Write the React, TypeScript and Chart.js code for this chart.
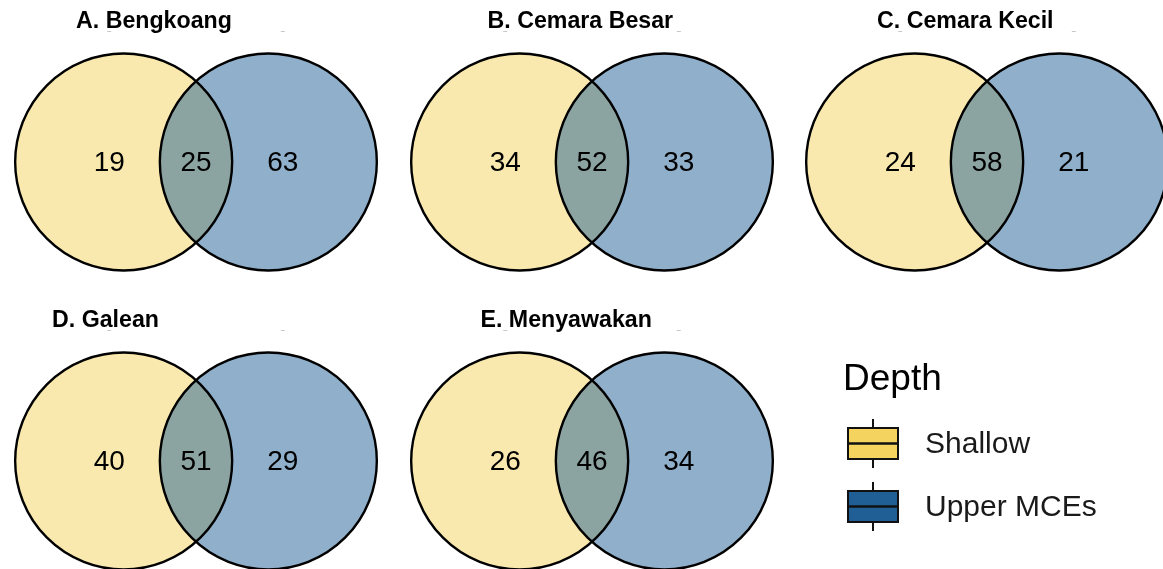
import React, { useEffect, useRef } from "react";
import { Chart, registerables } from "chart.js";

Chart.register(...registerables);

// ---- data ----
const panelTitles = ["A. Bengkoang", "B. Cemara Besar", "C. Cemara Kecil", "D. Galean", "E. Menyawakan"];
const shallowOnly = [19, 34, 24, 40, 26];
const sharedSpecies = [25, 52, 58, 51, 46];
const upperOnly = [63, 33, 21, 29, 34];
const depthLevels = ["Shallow", "Upper MCEs"];

// ---- styling / layout ----
const DEPTH_COLORS = ["#F4D35E", "#1F5F96"];
const UNIT = 108.5; // px per venn unit
const CW = 396;
const CH = 299;
const OX = 198; // venn centre inside canvas
const OY = 162;
const PANEL_LAYOUT = [
  { cx: 196, cy: 162, titleX: 76 },
  { cx: 591.5, cy: 162, titleX: 487 },
  { cx: 987, cy: 162, titleX: 877 },
  { cx: 196, cy: 461, titleX: 52 },
  { cx: 591.5, cy: 461, titleX: 480 },
];
const LABEL_X = [-0.8, 0, 0.8];
const CIRCLE_X = [-2 / 3, 2 / 3];
const FONT = "'Liberation Sans', Arial, sans-serif";

const vennPlugin = {
  id: "venn",
  beforeDatasetsDraw(chart: any) {
    const { ctx } = chart;
    const xs = chart.scales.x;
    const ys = chart.scales.y;
    const r = xs.getPixelForValue(1) - xs.getPixelForValue(0);
    const cy = ys.getPixelForValue(0);
    ctx.save();
    CIRCLE_X.forEach((cx, i) => {
      ctx.beginPath();
      ctx.arc(xs.getPixelForValue(cx), cy, r, 0, Math.PI * 2);
      ctx.globalAlpha = 0.5;
      ctx.fillStyle = DEPTH_COLORS[i];
      ctx.fill();
    });
    ctx.globalAlpha = 1;
    ctx.lineWidth = 2.4;
    ctx.strokeStyle = "#000";
    CIRCLE_X.forEach((cx) => {
      ctx.beginPath();
      ctx.arc(xs.getPixelForValue(cx), cy, r, 0, Math.PI * 2);
      ctx.stroke();
    });
    ctx.restore();
  },
  afterDatasetsDraw(chart: any, _args: any, opts: any) {
    const { ctx } = chart;
    const meta = chart.getDatasetMeta(0);
    const ds = chart.data.datasets[0];
    ctx.save();
    ctx.fillStyle = "#000";
    ctx.font = `28px ${FONT}`;
    ctx.textAlign = "center";
    ctx.textBaseline = "middle";
    meta.data.forEach((pt: any, i: number) => {
      ctx.fillText(String(ds.data[i].v), pt.x, pt.y + 1);
    });
    // tiny marks above outer counts
    ctx.strokeStyle = "#c8c8c8";
    ctx.lineWidth = 1;
    [0, 2].forEach((i) => {
      const p = meta.data[i];
      ctx.beginPath();
      ctx.moveTo(p.x - 2, OY - 131 + 0.5);
      ctx.lineTo(p.x + 2, OY - 131 + 0.5);
      ctx.stroke();
    });
    // title
    ctx.font = `bold 23.2px ${FONT}`;
    ctx.textAlign = "left";
    ctx.textBaseline = "alphabetic";
    ctx.fillText(opts.title, opts.titleX, opts.titleY);
    ctx.restore();
  },
};

const legendPlugin = {
  id: "depthLegend",
  afterDraw(chart: any) {
    const { ctx } = chart;
    ctx.save();
    ctx.fillStyle = "#000";
    ctx.font = `37px ${FONT}`;
    ctx.textBaseline = "alphabetic";
    ctx.fillText("Depth", 23, 50);
    depthLevels.forEach((lab, i) => {
      const top = 88 + i * 63;
      const bx = 28;
      const bw = 50;
      const bh = 31;
      const mx = bx + bw / 2;
      ctx.strokeStyle = "#111";
      ctx.lineWidth = 2;
      ctx.beginPath();
      ctx.moveTo(mx, top - 9);
      ctx.lineTo(mx, top + bh + 9);
      ctx.stroke();
      ctx.fillStyle = DEPTH_COLORS[i];
      ctx.fillRect(bx, top, bw, bh);
      ctx.strokeRect(bx, top, bw, bh);
      ctx.lineWidth = 2.4;
      ctx.beginPath();
      ctx.moveTo(bx, top + bh / 2);
      ctx.lineTo(bx + bw, top + bh / 2);
      ctx.stroke();
      ctx.fillStyle = "#1a1a1a";
      ctx.font = `30px ${FONT}`;
      ctx.textBaseline = "middle";
      ctx.fillText(lab, 105, top + bh / 2 + 1);
    });
    ctx.restore();
  },
};

function VennPanel({ idx }: { idx: number }) {
  const ref = useRef<HTMLCanvasElement | null>(null);
  const L = PANEL_LAYOUT[idx];
  useEffect(() => {
    if (!ref.current) return;
    const values = [shallowOnly[idx], sharedSpecies[idx], upperOnly[idx]];
    const chart = new Chart(ref.current, {
      type: "scatter",
      data: {
        datasets: [
          {
            data: values.map((v, i) => ({ x: LABEL_X[i], y: 0, v })) as any,
            pointRadius: 0,
          },
        ],
      },
      options: {
        animation: false,
        responsive: false,
        devicePixelRatio: 1,
        layout: { padding: 0 },
        events: [],
        scales: {
          x: { type: "linear", display: false, min: -OX / UNIT, max: (CW - OX) / UNIT },
          y: { type: "linear", display: false, min: -(CH - OY) / UNIT, max: OY / UNIT },
        },
        plugins: {
          legend: { display: false },
          tooltip: { enabled: false },
          venn: {
            title: panelTitles[idx],
            titleX: L.titleX - (L.cx - OX),
            titleY: 28 + (OY - 162),
          },
        } as any,
      },
      plugins: [vennPlugin],
    });
    return () => chart.destroy();
  }, [idx]);
  return (
    <canvas
      ref={ref}
      width={CW}
      height={CH}
      style={{ position: "absolute", left: L.cx - OX, top: L.cy - OY, width: CW, height: CH }}
    />
  );
}

function LegendPanel() {
  const ref = useRef<HTMLCanvasElement | null>(null);
  useEffect(() => {
    if (!ref.current) return;
    const chart = new Chart(ref.current, {
      type: "scatter",
      data: { datasets: [] },
      options: {
        animation: false,
        responsive: false,
        devicePixelRatio: 1,
        events: [],
        scales: { x: { display: false }, y: { display: false } },
        plugins: { legend: { display: false }, tooltip: { enabled: false } },
      },
      plugins: [legendPlugin],
    });
    return () => chart.destroy();
  }, []);
  return (
    <canvas
      ref={ref}
      width={343}
      height={229}
      style={{ position: "absolute", left: 820, top: 340, width: 343, height: 229 }}
    />
  );
}

export default function App() {
  return (
    <div
      style={{
        position: "fixed",
        left: 0,
        top: 0,
        width: 1163,
        height: 569,
        overflow: "hidden",
        background: "#fff",
      }}
    >
      {panelTitles.map((_, i) => (
        <VennPanel key={i} idx={i} />
      ))}
      <LegendPanel />
    </div>
  );
}
